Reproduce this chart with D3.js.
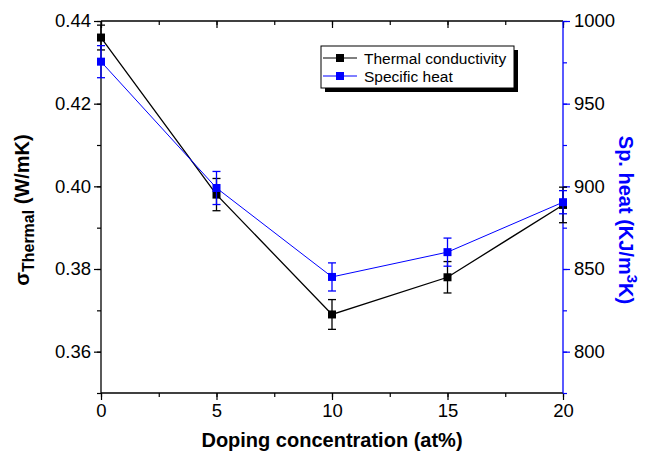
<!DOCTYPE html>
<html><head><meta charset="utf-8">
<script src="https://cdn.jsdelivr.net/npm/d3@7"></script>
<style>body{margin:0;background:#fff}svg{display:block;font-family:"Liberation Sans",Arial,sans-serif}</style>
</head><body><svg id="c" width="646" height="454"></svg>
<script>
const doping = [0, 5, 10, 15, 20];
const thermal = [0.436, 0.398, 0.369, 0.378, 0.3955];
const thermalErr = [0.003, 0.0039, 0.0036, 0.0038, 0.0043];
const spHeat = [975.4, 899, 845.2, 860.2, 890.4];
const spHeatErr = [9.7, 10, 8.5, 8.5, 7];
const xTicks = [0, 5, 10, 15, 20];
const yLeftTicks = [0.36, 0.38, 0.40, 0.42, 0.44];
const yRightTicks = [800, 850, 900, 950, 1000];

const svg = d3.select("#c");
const L = 101, R = 563, T = 21, B = 393;
const x = d3.scaleLinear().domain([0, 20]).range([L, R]);
const yL = d3.scaleLinear().domain([0.35, 0.44]).range([B, T]);
const yR = d3.scaleLinear().domain([775, 1000]).range([B, T]);
const BLUE = "#0000ff";

function styleAxis(g, color) {
  g.select(".domain").remove();
  g.selectAll("line").attr("stroke", color).attr("stroke-width", 1.2);
  g.selectAll("text").attr("fill", "#000").style("font-size", "18.5px").style("font-family", '"Liberation Sans",Arial,sans-serif');
}

const xMinor = d3.range(0, 20.01, 2.5);
const yLMinor = d3.range(0.35, 0.4401, 0.01);
const yRMinor = d3.range(775, 1000.1, 25);

const gB = svg.append("g").attr("transform", `translate(0,${B})`)
  .call(d3.axisBottom(x).tickValues(xMinor).tickSize(4).tickFormat(""));
styleAxis(gB, "#000");
const gB2 = svg.append("g").attr("transform", `translate(0,${B})`)
  .call(d3.axisBottom(x).tickValues(xTicks).tickSize(7).tickPadding(4).tickFormat(d3.format("d")));
styleAxis(gB2, "#000");
const gT = svg.append("g").attr("transform", `translate(0,${T})`)
  .call(d3.axisBottom(x).tickValues(xMinor).tickSize(4).tickFormat(""));
styleAxis(gT, "#000");
const gT2 = svg.append("g").attr("transform", `translate(0,${T})`)
  .call(d3.axisBottom(x).tickValues(xTicks).tickSize(7).tickFormat(""));
styleAxis(gT2, "#000");
const gL = svg.append("g").attr("transform", `translate(${L},0)`)
  .call(d3.axisLeft(yL).tickValues(yLMinor).tickSize(4).tickFormat(""));
styleAxis(gL, "#000");
const gL2 = svg.append("g").attr("transform", `translate(${L},0)`)
  .call(d3.axisLeft(yL).tickValues(yLeftTicks).tickSize(7).tickPadding(3).tickFormat(d3.format(".2f")));
styleAxis(gL2, "#000");
const gR = svg.append("g").attr("transform", `translate(${R},0)`)
  .call(d3.axisRight(yR).tickValues(yRMinor).tickSize(4).tickFormat(""));
styleAxis(gR, BLUE);
const gR2 = svg.append("g").attr("transform", `translate(${R},0)`)
  .call(d3.axisRight(yR).tickValues(yRightTicks).tickSize(7).tickPadding(4).tickFormat(d3.format("d")));
styleAxis(gR2, BLUE);

svg.append("line").attr("x1", L).attr("x2", R).attr("y1", T).attr("y2", T).attr("stroke", "#000").attr("stroke-width", 1.3);
svg.append("line").attr("x1", L).attr("x2", R).attr("y1", B).attr("y2", B).attr("stroke", "#000").attr("stroke-width", 1.3);
svg.append("line").attr("x1", L).attr("x2", L).attr("y1", T).attr("y2", B).attr("stroke", "#000").attr("stroke-width", 1.3);
svg.append("line").attr("x1", R).attr("x2", R).attr("y1", T).attr("y2", B).attr("stroke", BLUE).attr("stroke-width", 1.3);

function series(vals, errs, ys, color, lw) {
  const g = svg.append("g");
  const pts = doping.map((d, i) => ({ x: d, y: vals[i], e: errs[i] }));
  g.append("path").datum(pts)
    .attr("d", d3.line().x(d => x(d.x)).y(d => ys(d.y)))
    .attr("fill", "none").attr("stroke", color).attr("stroke-width", lw);
  const eb = g.selectAll(".eb").data(pts).enter().append("g");
  eb.append("line").attr("x1", d => x(d.x)).attr("x2", d => x(d.x))
    .attr("y1", d => ys(d.y - d.e)).attr("y2", d => ys(d.y + d.e)).attr("stroke", color).attr("stroke-width", 1.3);
  [-1, 1].forEach(s => {
    eb.append("line").attr("x1", d => x(d.x) - 4).attr("x2", d => x(d.x) + 4)
      .attr("y1", d => ys(d.y + s * d.e)).attr("y2", d => ys(d.y + s * d.e)).attr("stroke", color).attr("stroke-width", 1.3);
  });
  g.selectAll("rect").data(pts).enter().append("rect")
    .attr("x", d => x(d.x) - 4).attr("y", d => ys(d.y) - 4).attr("width", 8).attr("height", 8).attr("fill", color);
}
series(thermal, thermalErr, yL, "#000", 1.3);
series(spHeat, spHeatErr, yR, BLUE, 1);

const lg = svg.append("g");
const lx = 321, ly = 46, lw = 193, lh = 42;
lg.append("rect").attr("x", lx + 4).attr("y", ly + 4).attr("width", lw).attr("height", lh).attr("fill", "#000");
lg.append("rect").attr("x", lx).attr("y", ly).attr("width", lw).attr("height", lh).attr("fill", "#fff").attr("stroke", "#000").attr("stroke-width", 1);
[["Thermal conductivity", "#000"], ["Specific heat", BLUE]].forEach((d, i) => {
  const yy = ly + 12 + i * 18;
  lg.append("line").attr("x1", lx + 2).attr("x2", lx + 36).attr("y1", yy).attr("y2", yy).attr("stroke", d[1]).attr("stroke-width", 1.2);
  lg.append("rect").attr("x", lx + 15).attr("y", yy - 4).attr("width", 8).attr("height", 8).attr("fill", d[1]);
  lg.append("text").attr("x", lx + 43).attr("y", yy + 5.5).text(d[0]).style("font-size", "15.5px").attr("fill", "#000");
});

svg.append("text").attr("x", x(10)).attr("y", 447).attr("text-anchor", "middle")
  .style("font-size", "20px").style("font-weight", "bold").text("Doping concentration (at%)");
const lt = svg.append("text").attr("transform", "translate(29,210) rotate(-90)").attr("text-anchor", "middle")
  .style("font-size", "20px").style("font-weight", "bold");
lt.append("tspan").text("σ");
lt.append("tspan").attr("dy", 5).style("font-size", "16px").text("Thermal");
lt.append("tspan").attr("dy", -5).text(" (W/mK)");
const rt = svg.append("text").attr("transform", "translate(619,220) rotate(90)").attr("text-anchor", "middle")
  .style("font-size", "20px").style("font-weight", "bold").attr("fill", BLUE);
rt.append("tspan").text("Sp. heat (KJ/m");
rt.append("tspan").attr("dy", -8).style("font-size", "15px").text("3");
rt.append("tspan").attr("dy", 8).text("K)");
</script></body></html>
